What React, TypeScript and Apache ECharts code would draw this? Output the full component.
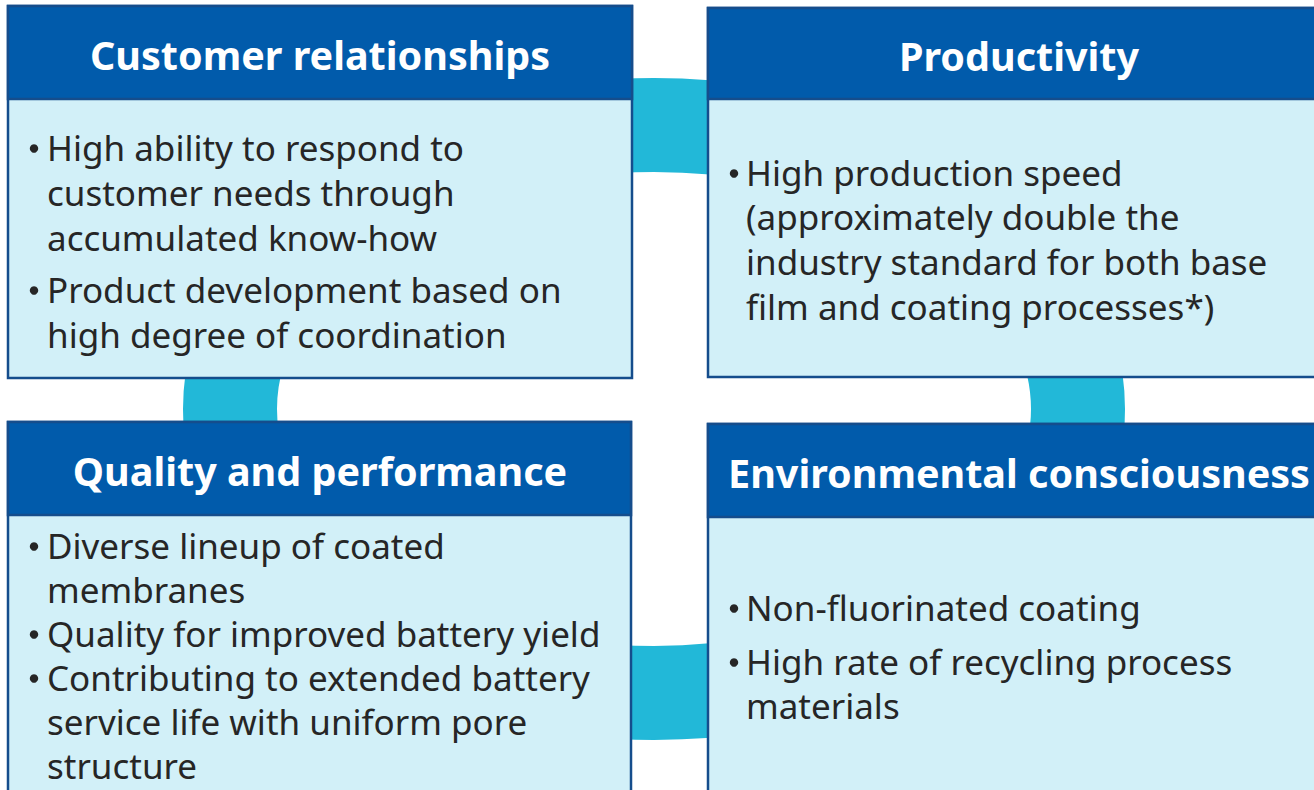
import React, { useEffect, useRef } from "react";
import * as echarts from "echarts";

const titles = [
  "Customer relationships",
  "Productivity",
  "Quality and performance",
  "Environmental consciousness",
];

const bulletsCustomer = [
  ["High ability to respond to", "customer needs through", "accumulated know-how"],
  ["Product development based on", "high degree of coordination"],
];
const bulletsProductivity = [
  [
    "High production speed",
    "(approximately double the",
    "industry standard for both base",
    "film and coating processes*)",
  ],
];
const bulletsQuality = [
  ["Diverse lineup of coated", "membranes"],
  ["Quality for improved battery yield"],
  ["Contributing to extended battery", "service life with uniform pore", "structure"],
];
const bulletsEnvironment = [
  ["Non-fluorinated coating"],
  ["High rate of recycling process", "materials"],
];

const HEADER_BLUE = "#015BAB";
const BORDER_BLUE = "#154D8C";
const BODY_FILL = "#D2F0F8";
const RING = "#22B8D8";
const TEXT = "#262626";
const FONT = "'Noto Sans', 'Open Sans', sans-serif";

const boxes = [
  { x: 8, y: 6, w: 624, h: 372, hh: 93, bx: 34, tx: 47, y0: 147, lh: 45, gap: 52, bullets: bulletsCustomer, cx: 320 },
  { x: 708, y: 8, w: 624, h: 369, hh: 91, bx: 734, tx: 746, y0: 172, lh: 44.7, gap: 52, bullets: bulletsProductivity, cx: 1019 },
  { x: 8, y: 422, w: 623, h: 400, hh: 93, bx: 34, tx: 47, y0: 545, lh: 44, gap: 44, bullets: bulletsQuality, cx: 320 },
  { x: 708, y: 424, w: 624, h: 400, hh: 93, bx: 734, tx: 746, y0: 607, lh: 44, gap: 54, bullets: bulletsEnvironment, cx: 1019 },
];

function buildGraphics() {
  const els: any[] = [];
  els.push({
    type: "ellipse",
    shape: { cx: 654, cy: 409, rx: 424, ry: 284 },
    style: { fill: "none", stroke: RING, lineWidth: 94 },
    z: 1,
  });
  boxes.forEach((b, i) => {
    els.push({
      type: "rect",
      shape: { x: b.x, y: b.y, width: b.w, height: b.h },
      style: { fill: BODY_FILL, stroke: BORDER_BLUE, lineWidth: 2.5 },
      z: 2,
    });
    els.push({
      type: "rect",
      shape: { x: b.x, y: b.y, width: b.w, height: b.hh },
      style: { fill: HEADER_BLUE, stroke: BORDER_BLUE, lineWidth: 2.5 },
      z: 3,
    });
    els.push({
      type: "text",
      z: 4,
      style: {
        text: titles[i],
        x: b.cx,
        y: b.y + b.hh / 2 + 2,
        fill: "#ffffff",
        fontSize: 39.5,
        fontWeight: "bold",
        fontFamily: FONT,
        textAlign: "center",
        textVerticalAlign: "middle",
      },
    });
    let y = b.y0;
    b.bullets.forEach((lines, k) => {
      if (k > 0) y += b.gap;
      els.push({
        type: "circle",
        z: 4,
        shape: { cx: b.bx, cy: y + 1.5, r: 4.2 },
        style: { fill: TEXT },
      });
      els.push({
        type: "text",
        z: 4,
        style: {
          text: lines.join("\n"),
          x: b.tx,
          y: y - b.lh / 2,
          fill: TEXT,
          fontSize: 35,
          lineHeight: b.lh,
          fontFamily: FONT,
          textAlign: "left",
          textVerticalAlign: "top",
        },
      });
      y += b.lh * (lines.length - 1);
    });
  });
  return els;
}

export default function App() {
  const ref = useRef<HTMLDivElement>(null);
  useEffect(() => {
    if (!ref.current) return;
    const chart = echarts.init(ref.current, undefined, { renderer: "svg" });
    chart.setOption({
      animation: false,
      backgroundColor: "#ffffff",
      graphic: { elements: buildGraphics() },
    });
    return () => chart.dispose();
  }, []);
  return (
    <div
      ref={ref}
      style={{ position: "fixed", left: 0, top: 0, width: 1314, height: 790, background: "#fff" }}
    />
  );
}
